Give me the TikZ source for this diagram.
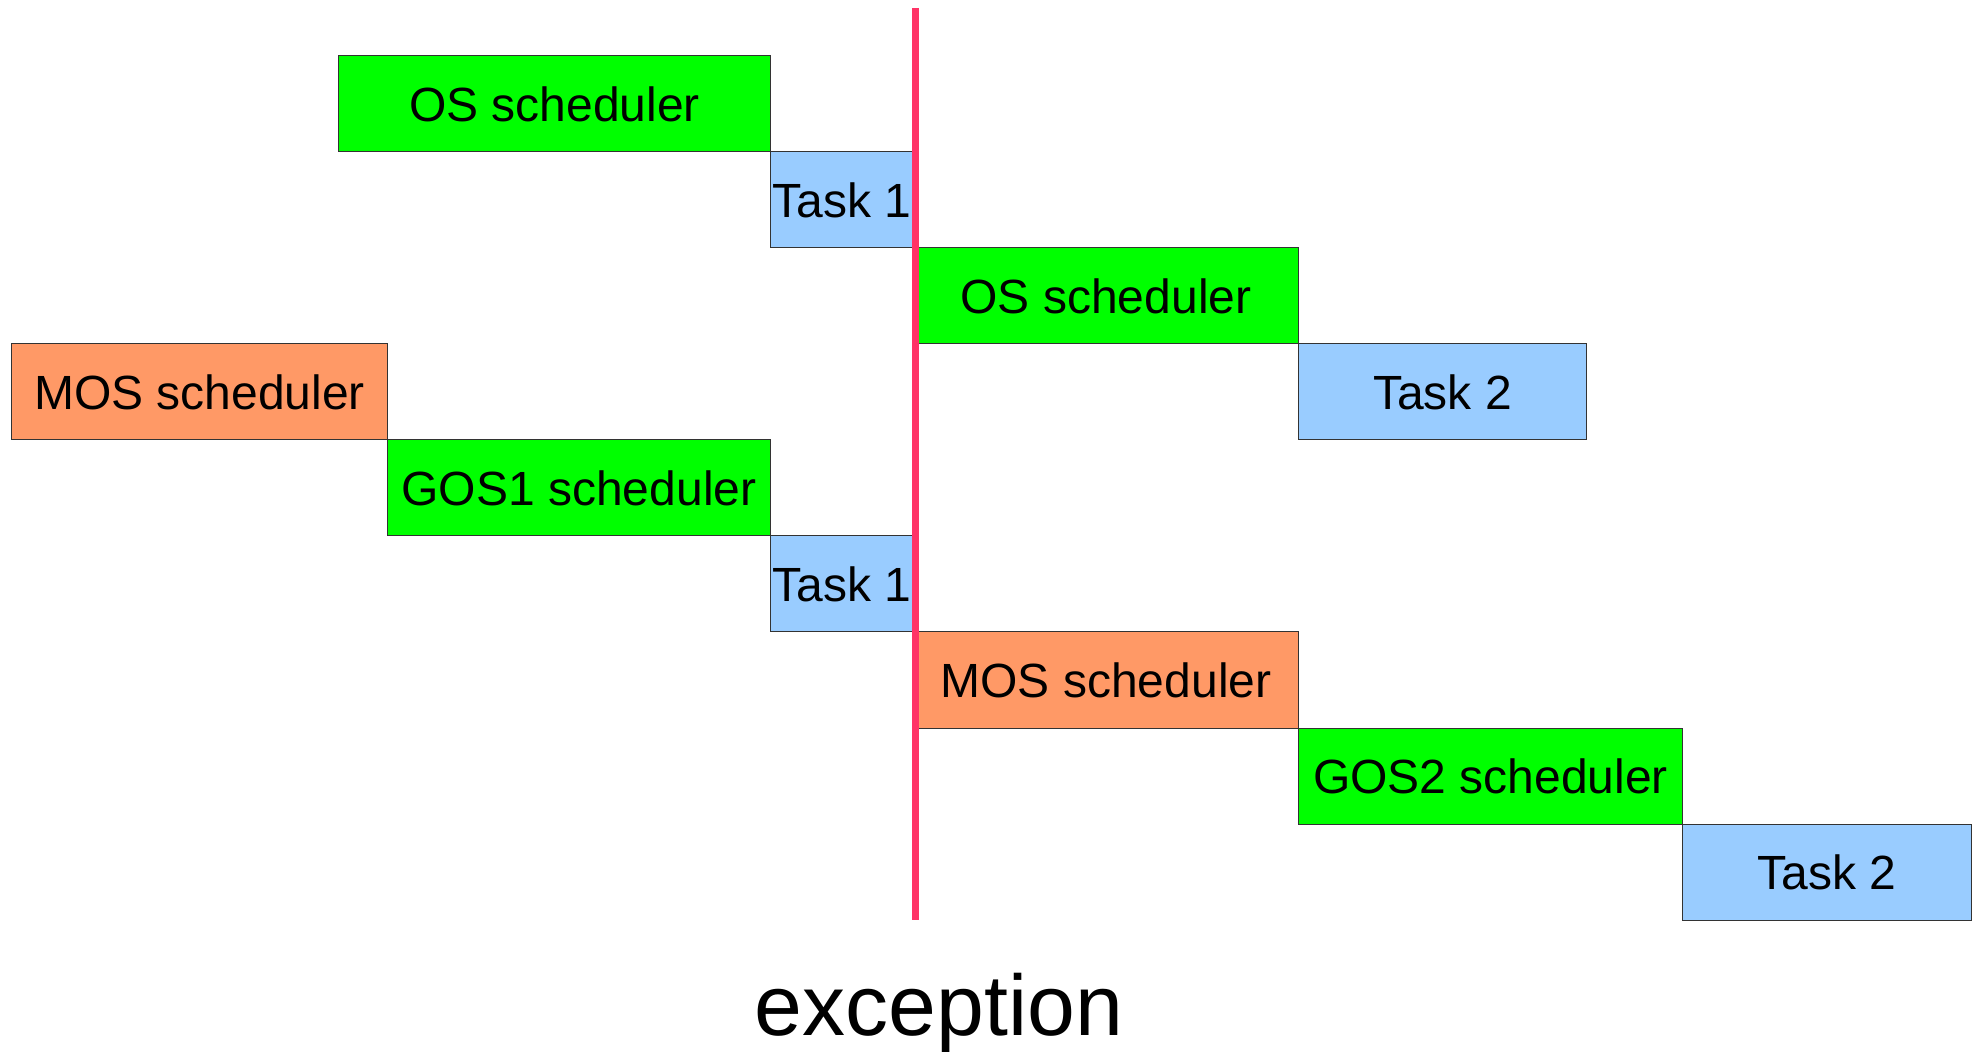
\documentclass[tikz,border=0pt]{standalone}
\usepackage{fontspec}
\setmainfont{Liberation Sans}
\definecolor{osgreen}{HTML}{00FF00}
\definecolor{taskblue}{HTML}{99CCFF}
\definecolor{mosorange}{HTML}{FF9966}
\definecolor{excred}{HTML}{FF3366}
\definecolor{edge}{HTML}{333333}
\begin{document}
\begin{tikzpicture}[x=0.5pt,y=-0.5pt,
  slot/.style={draw=edge, line width=0.5pt, inner sep=0pt, anchor=north west,
    font=\fontsize{24}{28}\selectfont, text=black},
  green/.style={slot, fill=osgreen},
  blue/.style={slot, fill=taskblue},
  orange/.style={slot, fill=mosorange}]
\useasboundingbox (0,0) rectangle (1980,1052);
% first scenario: plain OS
\node[green, minimum width=432*0.5pt, minimum height=96*0.5pt] (os1) at (338,55.5) {OS scheduler};
\node[blue, minimum width=143*0.5pt, minimum height=96*0.5pt] (t1a) at (770,151.5) {Task 1};
\node[green, minimum width=385*0.5pt, minimum height=96*0.5pt] (os2) at (913,247.5) {OS scheduler};
\node[blue, minimum width=288*0.5pt, minimum height=96*0.5pt] (t2a) at (1298,343.5) {Task 2};
% second scenario: MOS with guest schedulers
\node[orange, minimum width=376*0.5pt, minimum height=96*0.5pt] (mos1) at (11,343.5) {MOS scheduler};
\node[green, minimum width=383*0.5pt, minimum height=96*0.5pt] (gos1) at (387,439.5) {GOS1 scheduler};
\node[blue, minimum width=143*0.5pt, minimum height=96*0.5pt] (t1b) at (770,535.5) {Task 1};
\node[orange, minimum width=385*0.5pt, minimum height=96*0.5pt] (mos2) at (913,631.5) {MOS scheduler};
\node[green, minimum width=384*0.5pt, minimum height=96*0.5pt] (gos2) at (1298,727.5) {GOS2 scheduler};
\node[blue, minimum width=289*0.5pt, minimum height=96*0.5pt] (t2b) at (1682,823.5) {Task 2};
% exception marker
\coordinate (exctop) at (915,8);
\coordinate (excbot) at (915,920);
\draw[excred, line width=3.5pt] (exctop) -- (excbot);
\node[anchor=base, inner sep=0pt, font=\fontsize{43}{52}\selectfont] (exc) at (939,1035) {exception};
\end{tikzpicture}
\end{document}
